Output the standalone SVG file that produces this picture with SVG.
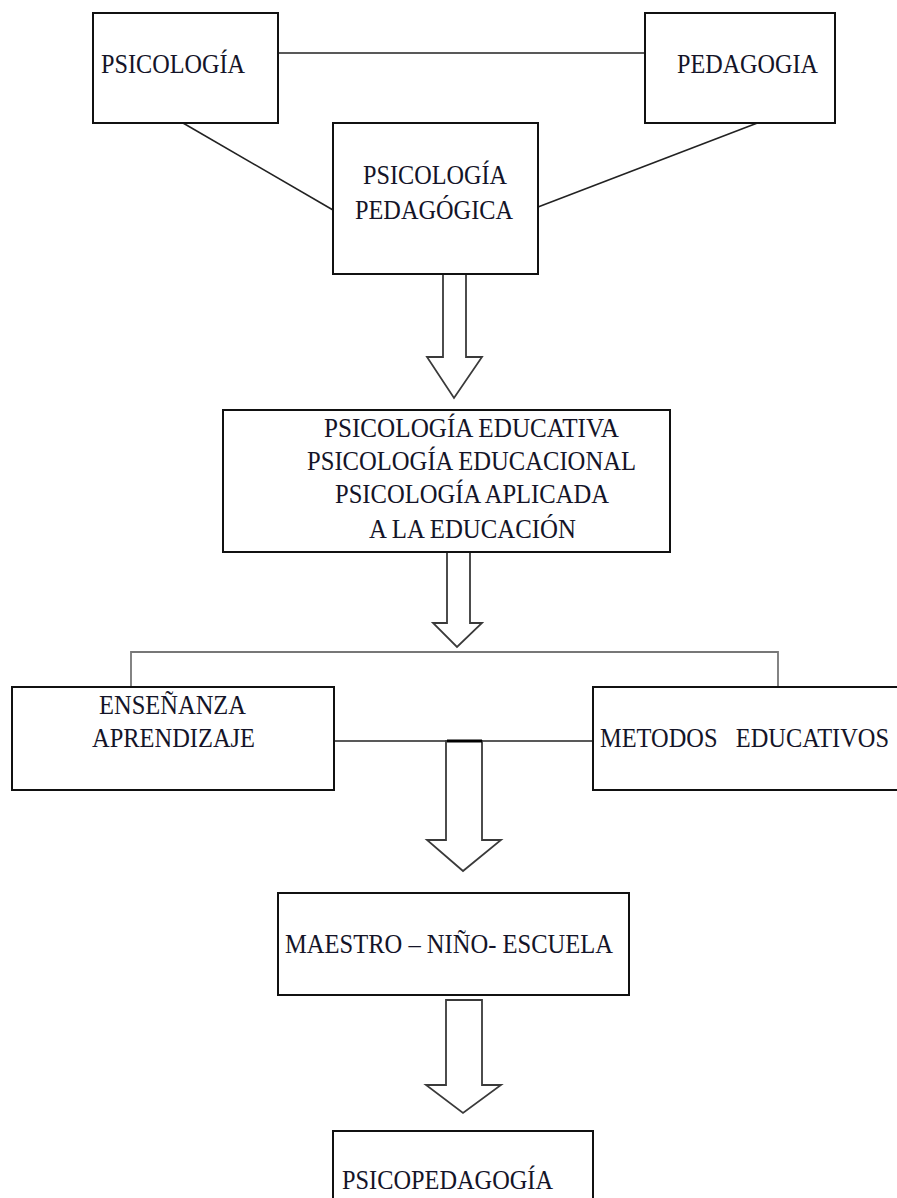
<svg xmlns="http://www.w3.org/2000/svg" width="897" height="1198" viewBox="0 0 897 1198">
<style>
.box{fill:#fff;stroke:#111;stroke-width:2}
.t{font-family:"Liberation Serif","Times New Roman",serif;font-size:27px;fill:#141428}
.ln{stroke:#222;stroke-width:1.6;fill:none}
.gl{stroke:#777;stroke-width:1.8;fill:none}
.ar{fill:#fff;stroke:#3a3a3a;stroke-width:1.8;stroke-linejoin:miter}
</style>
<rect width="897" height="1198" fill="#fff"/>
<g id="connectors">
<line class="ln" x1="278" y1="53" x2="645" y2="53"/>
<line class="ln" x1="183" y1="123" x2="333" y2="210"/>
<line class="ln" x1="760" y1="122" x2="538" y2="207"/>
<polygon class="ar" points="443,274 466,274 466,357 482,357 454,398 427,357 443,357"/>
<polygon class="ar" points="447,552 470,552 470,623 482,623 457,647 433,623 447,623"/>
<polyline class="gl" points="131,687 131,652 778,652 778,690"/>
<line class="ln" x1="334" y1="741" x2="593" y2="741"/>
<polygon class="ar" points="446,741 482,741 482,840 501,840 463,871 427,840 446,840"/>
<line x1="447" y1="741" x2="482" y2="741" stroke="#000" stroke-width="3"/>
<polygon class="ar" points="446,1000 482,1000 482,1085 501,1085 463,1113 426,1085 446,1085"/>
</g>
<g id="n-psicologia">
<rect class="box" x="93" y="13" width="185" height="110"/>
<text class="t" x="101" y="73" textLength="144" lengthAdjust="spacingAndGlyphs">PSICOLOGÍA</text>
</g>
<g id="n-pedagogia">
<rect class="box" x="645" y="13" width="190" height="110"/>
<text class="t" x="677" y="73" textLength="141" lengthAdjust="spacingAndGlyphs">PEDAGOGIA</text>
</g>
<g id="n-psicologia-pedagogica">
<rect class="box" x="333" y="123" width="205" height="151"/>
<text class="t" x="363" y="184" textLength="144" lengthAdjust="spacingAndGlyphs">PSICOLOGÍA</text>
<text class="t" x="355" y="219" textLength="158" lengthAdjust="spacingAndGlyphs">PEDAGÓGICA</text>
</g>
<g id="n-psicologia-educativa">
<rect class="box" x="223" y="410" width="447" height="142"/>
<text class="t" x="324" y="437" textLength="295" lengthAdjust="spacingAndGlyphs">PSICOLOGÍA EDUCATIVA</text>
<text class="t" x="307" y="470" textLength="329" lengthAdjust="spacingAndGlyphs">PSICOLOGÍA EDUCACIONAL</text>
<text class="t" x="335" y="503" textLength="274" lengthAdjust="spacingAndGlyphs">PSICOLOGÍA APLICADA</text>
<text class="t" x="369" y="538" textLength="207" lengthAdjust="spacingAndGlyphs">A LA EDUCACIÓN</text>
</g>
<g id="n-ensenanza">
<rect class="box" x="12" y="687" width="322" height="103"/>
<text class="t" x="99" y="714" textLength="147" lengthAdjust="spacingAndGlyphs">ENSEÑANZA</text>
<text class="t" x="92" y="747" textLength="163" lengthAdjust="spacingAndGlyphs">APRENDIZAJE</text>
</g>
<g id="n-metodos">
<rect class="box" x="593" y="687" width="320" height="103"/>
<text class="t" x="600" y="747" textLength="289" lengthAdjust="spacingAndGlyphs" xml:space="preserve">METODOS   EDUCATIVOS</text>
</g>
<g id="n-maestro">
<rect class="box" x="278" y="893" width="351" height="102"/>
<text class="t" x="285" y="953" textLength="328" lengthAdjust="spacingAndGlyphs">MAESTRO – NIÑO- ESCUELA</text>
</g>
<g id="n-psicopedagogia">
<rect class="box" x="333" y="1131" width="260" height="90"/>
<text class="t" x="342" y="1189" textLength="211" lengthAdjust="spacingAndGlyphs">PSICOPEDAGOGÍA</text>
</g>
</svg>
